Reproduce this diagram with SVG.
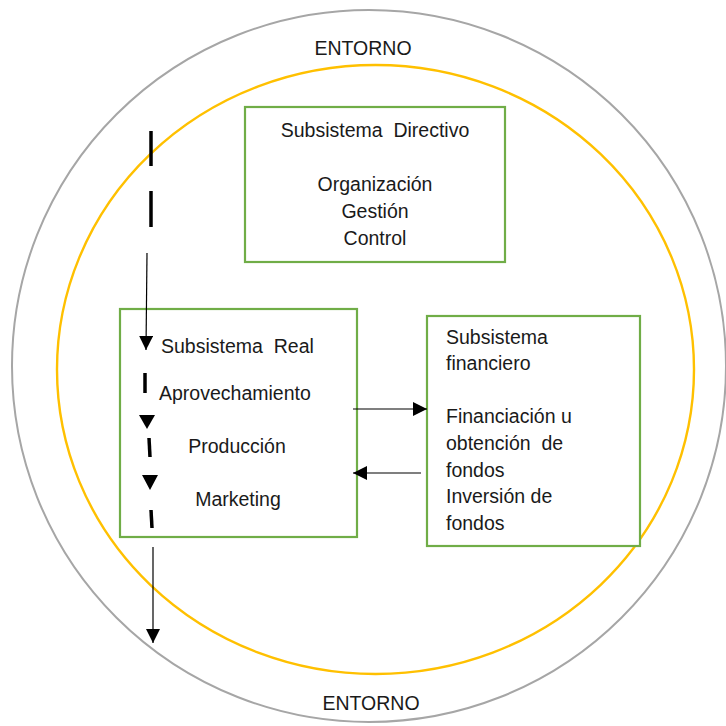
<svg xmlns="http://www.w3.org/2000/svg" width="726" height="726" viewBox="0 0 726 726">
  <style>
    text { font-family: "Liberation Sans", Arial, sans-serif; font-size: 19.5px; fill: #1a1a1a; }
    .box { fill: #ffffff; stroke: #70ad47; stroke-width: 2.2; }
    .mid { text-anchor: middle; }
    .thin { stroke: #000000; stroke-width: 1.2; fill: none; }
    .dash { stroke: #000000; stroke-width: 3.5; stroke-linecap: butt; }
    .head { fill: #000000; }
  </style>
  <defs>
    <marker id="arrow" viewBox="0 0 10 10" refX="10" refY="5" markerWidth="14" markerHeight="14" markerUnits="userSpaceOnUse" orient="auto">
      <path d="M0,0 L10,5 L0,10 Z" fill="#000000"/>
    </marker>
  </defs>

  <rect x="0" y="0" width="726" height="726" fill="#ffffff"/>

  <!-- environment rings -->
  <g id="entorno">
    <ellipse cx="369" cy="366" rx="357" ry="356" fill="none" stroke="#a6a6a6" stroke-width="2"/>
    <text class="mid" x="363" y="55">ENTORNO</text>
    <text class="mid" x="371" y="710">ENTORNO</text>
  </g>
  <g id="empresa">
    <ellipse cx="375.5" cy="369.5" rx="318.5" ry="304.5" fill="none" stroke="#ffc000" stroke-width="2.4"/>
  </g>

  <!-- subsystems -->
  <g id="directivo">
    <rect class="box" x="245" y="107" width="260" height="155"/>
    <text class="mid" x="375" y="137" xml:space="preserve">Subsistema  Directivo</text>
    <text class="mid" x="375" y="191">Organización</text>
    <text class="mid" x="375" y="218">Gestión</text>
    <text class="mid" x="375" y="245">Control</text>
  </g>

  <g id="real">
    <rect class="box" x="120" y="309" width="237" height="228"/>
    <text x="161" y="353" xml:space="preserve">Subsistema  Real</text>
    <text x="159" y="400">Aprovechamiento</text>
    <text class="mid" x="237" y="453">Producción</text>
    <text class="mid" x="238" y="506">Marketing</text>
  </g>

  <g id="financiero">
    <rect class="box" x="427" y="316" width="213" height="230"/>
    <text x="446" y="344">Subsistema</text>
    <text x="446" y="370">financiero</text>
    <text x="446" y="423">Financiación u</text>
    <text x="446" y="450" xml:space="preserve">obtención  de</text>
    <text x="446" y="477">fondos</text>
    <text x="446" y="503">Inversión de</text>
    <text x="446" y="530">fondos</text>
  </g>

  <!-- flows -->
  <g id="connectors">
    <line class="dash" x1="151" y1="131" x2="151" y2="166"/>
    <line class="dash" x1="151" y1="191" x2="151" y2="227"/>
    <line class="thin" x1="147" y1="253" x2="146" y2="350" marker-end="url(#arrow)"/>
    <line class="dash" x1="145" y1="373" x2="145" y2="393"/>
    <path class="head" d="M139,415 L155,415 L147,429 Z"/>
    <line class="dash" x1="149" y1="438" x2="150" y2="457"/>
    <path class="head" d="M142,475 L158,475 L150,490 Z"/>
    <line class="dash" x1="151" y1="510" x2="152" y2="528"/>
    <line class="thin" x1="153" y1="547" x2="153" y2="643" marker-end="url(#arrow)"/>
    <line class="thin" x1="353" y1="409" x2="427" y2="409" marker-end="url(#arrow)"/>
    <line class="thin" x1="421" y1="473" x2="353" y2="473" marker-end="url(#arrow)"/>
  </g>
</svg>
